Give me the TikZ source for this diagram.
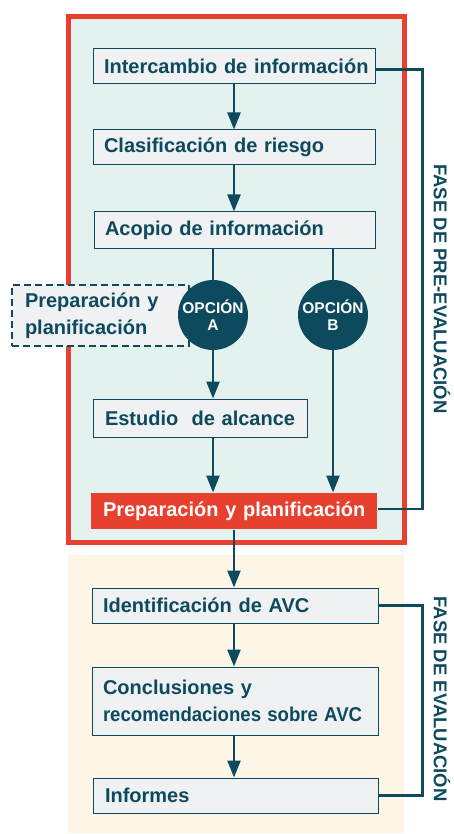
\documentclass[tikz,border=0pt]{standalone}
\usepackage{fontspec}
\setmainfont{Liberation Sans}
\usetikzlibrary{arrows.meta,calc}
\definecolor{dk}{HTML}{0D4A5E}
\definecolor{redc}{HTML}{E8402F}
\definecolor{tealbg}{HTML}{E3F1EF}
\definecolor{beige}{HTML}{FDF6E7}
\definecolor{boxbg}{HTML}{EFF1F3}
\begin{document}
\begin{tikzpicture}[x=1pt,y=-1pt,
  box/.style={draw=dk, fill=boxbg, line width=1pt, inner xsep=11pt, inner ysep=0pt,
    font=\bfseries\fontsize{20}{27}\selectfont, text=dk, align=left},
  opt/.style={circle, fill=dk, minimum size=70pt, inner sep=0pt, text=white, align=center,
    font=\bfseries\fontsize{15.5}{17}\selectfont},
  arr/.style={draw=dk, line width=2.4pt, -{Triangle[width=13pt,length=17pt]}},
  ln/.style={draw=dk, line width=2.4pt},
  brk/.style={draw=dk, line width=2.3pt},
  phase/.style={text=dk, rotate=-90, font=\bfseries\fontsize{18.5}{20}\selectfont}]
\useasboundingbox (0,0) rectangle (454,834);
% frames
\draw[redc, fill=tealbg, line width=5pt] (68.5,16.5) rectangle (404.5,542.5);
\fill[beige] (68,555) rectangle (404,833);
% boxes
\node[box, minimum height=35pt, text width=260pt] (n1) at (234,66.5) {\mbox{Intercambio de información}};
\node[box, minimum height=35pt, text width=260pt] (n2) at (234,147.5) {\mbox{Clasificación de riesgo}};
\node[box, minimum height=36pt, text width=259pt] (n3) at (234.5,230) {\mbox{Acopio de información}};
\node[box, dashed, dash pattern=on 7pt off 4pt, line width=2pt, minimum height=61pt, inner xsep=13pt, text width=151pt] (pp) at (100.5,315.5) {\mbox{Preparación y}\\\mbox{planificación}};
\node[opt] (A) at (213,315) {OPCIÓN\\A};
\node[opt] (B) at (333,315) {OPCIÓN\\B};
\node[box, minimum height=38pt, inner xsep=12pt, text width=190pt] (est) at (200,418) {\mbox{Estudio\ \ de alcance}};
\node[box, draw=none, fill=redc, text=white, minimum height=36pt, inner xsep=12pt, text width=262pt] (red) at (234,511) {\mbox{Preparación y planificación}};
\node[box, minimum height=35pt, inner xsep=11pt, text width=264pt] (id) at (235,605.5) {\mbox{Identificación de AVC}};
\node[box, minimum height=68pt, inner xsep=11pt, text width=264pt] (con) at (235,701) {\mbox{Conclusiones y}\\\scalebox{0.93}[1]{recomendaciones sobre AVC}};
\node[box, minimum height=35pt, inner xsep=12pt, text width=261pt] (inf) at (235.5,795.5) {\mbox{Informes}};
% connectors
\draw[arr] (n1.south) -- (n2.north -| n1.south);
\draw[arr] (n2.south) -- (n3.north -| n2.south);
\draw[ln] (n3.south -| A.north) -- (A.north);
\draw[ln] (n3.south -| B.north) -- (B.north);
\draw[arr] (A.south) -- (est.north -| A.south);
\draw[arr] (est.south -| A.south) -- (red.north -| A.south);
\draw[arr] (B.south) -- (red.north -| B.south);
\draw[arr] (red.south) -- (id.north -| red.south);
\draw[arr] (id.south -| red.south) -- (con.north -| red.south);
\draw[arr] (con.south -| red.south) -- (inf.north -| red.south);
% brackets
\draw[brk] ($(n1.east)+(0,3)$) -- ++(47,0) |- ($(red.east)+(0,-2)$);
\draw[brk] (id.east) -- ++(44,0) |- (inf.east);
% phase labels
\node[phase] (ph1) at (442,289) {FASE DE PRE-EVALUACIÓN};
\node[phase] (ph2) at (442,699) {FASE DE EVALUACIÓN};
\end{tikzpicture}
\end{document}
